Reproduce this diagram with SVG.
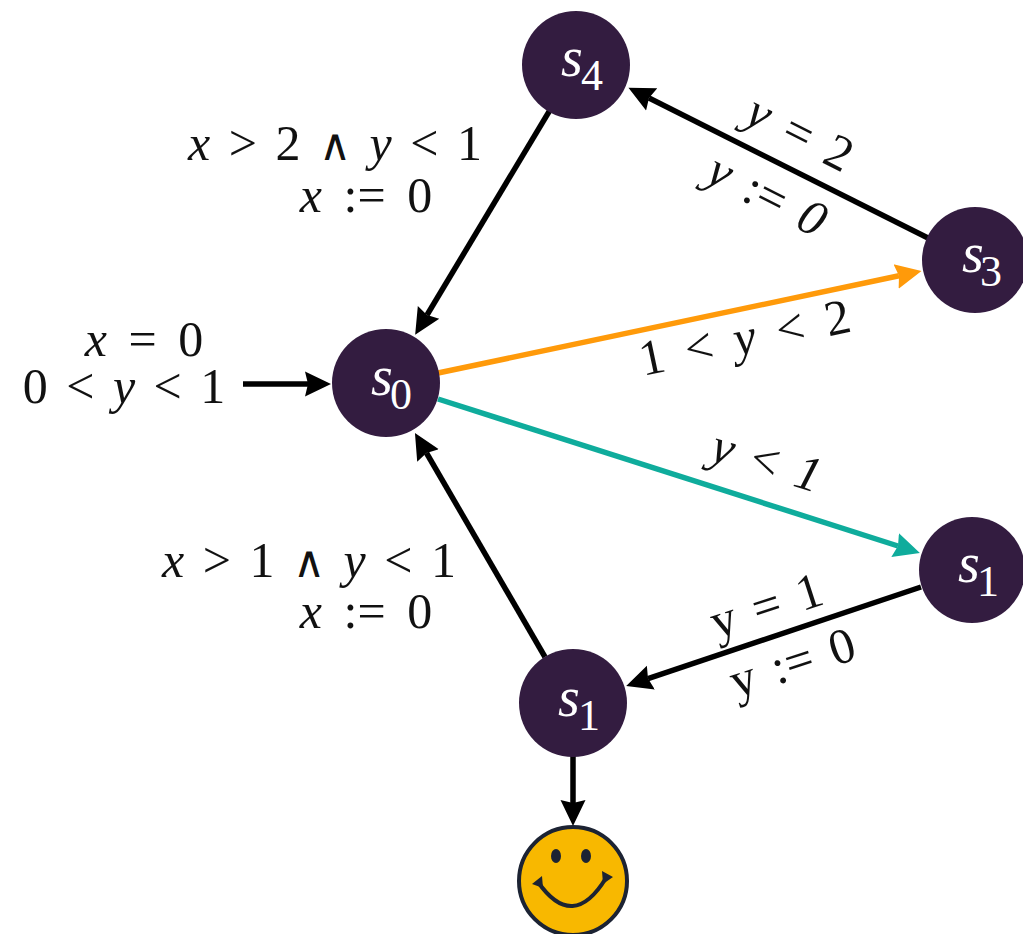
<svg xmlns="http://www.w3.org/2000/svg" width="1023" height="934" viewBox="0 0 1023 934">
<style>
text{font-family:"Liberation Serif","Times New Roman",serif;}
.l{font-size:50px;fill:#111;text-anchor:middle;word-spacing:6px;}
.w{word-spacing:9px;}
.i{font-style:italic;}
.v{font-size:44px;}
.n{fill:#331c40;}
.s{font-size:56px;font-style:italic;fill:#fff;}
.u{font-size:44px;fill:#fff;}
.e{fill:none;stroke:#000;stroke-width:5.500;}
</style>
<defs>
<marker id="a" markerUnits="userSpaceOnUse" markerWidth="28" markerHeight="28" refX="3" refY="14" orient="auto"><path d="M0 1.500L26 14L0 26.500L3 14Z" fill="#000"/></marker>
<marker id="o" markerUnits="userSpaceOnUse" markerWidth="28" markerHeight="28" refX="3" refY="14" orient="auto"><path d="M0 1.500L26 14L0 26.500L3 14Z" fill="#ff9a0a"/></marker>
<marker id="t" markerUnits="userSpaceOnUse" markerWidth="28" markerHeight="28" refX="3" refY="14" orient="auto"><path d="M0 1.500L26 14L0 26.500L3 14Z" fill="#0fac9c"/></marker>
</defs>
<rect width="1023" height="934" fill="#fff"/>
<g id="connectors">
<path class="e" marker-end="url(#a)" d="M550 110L427 315"/>
<path class="e" marker-end="url(#a)" d="M928 238L649 98"/>
<path class="e" style="stroke:#ff9a0a" marker-end="url(#o)" d="M438 373L899 275.800"/>
<path class="e" style="stroke:#0fac9c" marker-end="url(#t)" d="M438 399L898 546"/>
<path class="e" marker-end="url(#a)" d="M921 587L648 678.600"/>
<path class="e" marker-end="url(#a)" d="M545 657L426.500 453"/>
<path class="e" marker-end="url(#a)" d="M573 756L573 803"/>
<path class="e" marker-end="url(#a)" d="M243 384L308 384"/>
</g>
<g id="s4"><circle class="n" cx="576" cy="65" r="54"/><text class="s" x="561" y="76">s</text><text class="u" x="581" y="90">4</text></g>
<g id="s3"><circle class="n" cx="975" cy="260" r="53"/><text class="s" x="962" y="272">s</text><text class="u" x="980" y="286">3</text></g>
<g id="s0"><circle class="n" cx="386" cy="383" r="54"/><text class="s" x="371" y="395">s</text><text class="u" x="390" y="409">0</text></g>
<g id="s1-right"><circle class="n" cx="972" cy="570" r="53"/><text class="s" x="958" y="582">s</text><text class="u" x="977" y="596">1</text></g>
<g id="s1-bottom"><circle class="n" cx="573" cy="703" r="54"/><text class="s" x="558" y="716">s</text><text class="u" x="578" y="730">1</text></g>
<g id="labels">
<text class="l" x="335" y="160"><tspan class="i">x</tspan> &gt; 2 <tspan class="v">∧</tspan> <tspan class="i">y</tspan> &lt; 1</text>
<text class="l w" x="366" y="212"><tspan class="i">x</tspan> := 0</text>
<text class="l w" x="144" y="356"><tspan class="i">x</tspan> = 0</text>
<text class="l" x="124" y="403">0 &lt; <tspan class="i">y</tspan> &lt; 1</text>
<text class="l" x="309" y="577"><tspan class="i">x</tspan> &gt; 1 <tspan class="v">∧</tspan> <tspan class="i">y</tspan> &lt; 1</text>
<text class="l w" x="366" y="628"><tspan class="i">x</tspan> := 0</text>
<text class="l" transform="translate(799 135) rotate(27)" y="14"><tspan class="i">y</tspan> = 2</text>
<text class="l" transform="translate(766 197) rotate(27)" y="14"><tspan class="i">y</tspan> := <tspan class="i">0</tspan></text>
<text class="l w" transform="translate(745 340) rotate(-12)" y="14">1 &lt; <tspan class="i">y</tspan> &lt; 2</text>
<text class="l" transform="translate(766 463) rotate(17)" y="14"><tspan class="i">y</tspan> &lt; <tspan class="i">1</tspan></text>
<text class="l" transform="translate(767 608) rotate(-18)" y="14">y = 1</text>
<text class="l" transform="translate(793 665) rotate(-18)" y="14">y := 0</text>
</g>
<g id="goal">
<circle cx="573" cy="881" r="54" fill="#f8b800" stroke="#1c2333" stroke-width="4"/>
<ellipse cx="556" cy="856" rx="5" ry="7" fill="#1c2333"/><ellipse cx="586" cy="856" rx="5" ry="7" fill="#1c2333"/>
<path d="M538 882Q573 932 606 878" fill="none" stroke="#1c2333" stroke-width="4"/>
<path d="M532 884L542 876L543 888ZM602 871L613 877L603 884Z" fill="#1c2333"/>
</g>
</svg>
